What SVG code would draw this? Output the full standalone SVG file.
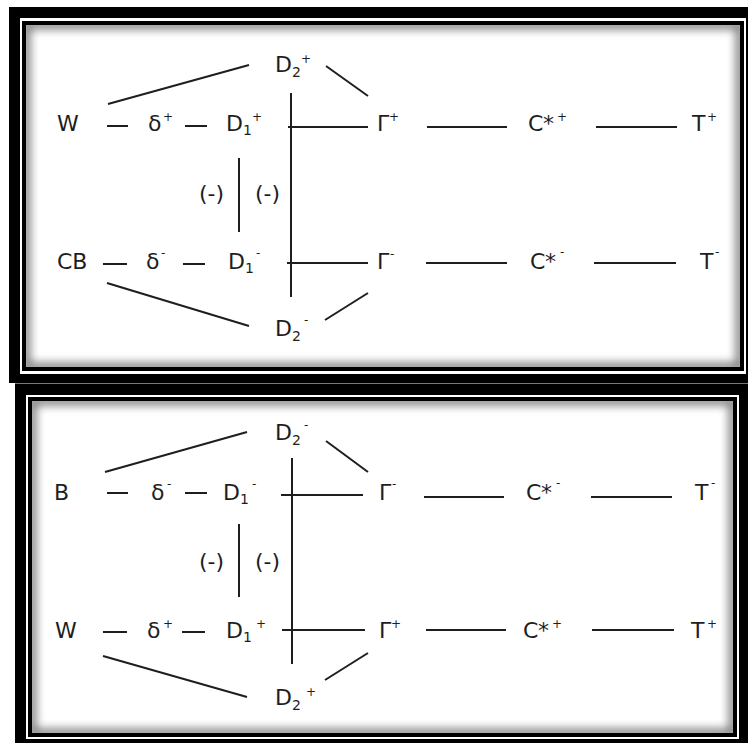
<svg xmlns="http://www.w3.org/2000/svg" width="748" height="743" viewBox="0 0 748 743">
<style>
.t{font-family:"DejaVu Sans",Verdana,sans-serif;font-size:22px;fill:#1e1e1e}
.sup{font-size:12px}
.sub{font-size:14px}
.c line{stroke:#1e1e1e;stroke-width:2;stroke-linecap:butt}
</style>
<defs>
<filter id="blur" x="-5%" y="-5%" width="110%" height="110%"><feGaussianBlur stdDeviation="5"/></filter>
<clipPath id="cp1"><rect x="26" y="25" width="714" height="342"/></clipPath>
<clipPath id="cp2"><rect x="32" y="401" width="701" height="332"/></clipPath>
</defs>
<rect width="748" height="743" fill="#fff"/>
<g id="frame1">
<rect x="9" y="7" width="745" height="376" fill="#000"/>
<rect x="20" y="18" width="726" height="356" fill="#fff"/>
<rect x="22" y="21" width="722" height="350" fill="#000"/>
<rect x="26" y="25" width="714" height="342" fill="#fff"/>
<g clip-path="url(#cp1)"><rect x="26" y="25" width="714" height="342" fill="none" stroke="#000" stroke-width="8" opacity="0.55" filter="url(#blur)"/></g>
</g>
<g id="frame2">
<rect x="15" y="383" width="740" height="362" fill="#000"/>
<line x1="15" y1="383.5" x2="748" y2="383.5" stroke="#777" stroke-width="1"/>
<rect x="26" y="395" width="713" height="344" fill="#fff"/>
<rect x="28" y="397" width="709" height="340" fill="#000"/>
<rect x="32" y="401" width="701" height="332" fill="#fff"/>
<g clip-path="url(#cp2)"><rect x="32" y="401" width="701" height="332" fill="none" stroke="#000" stroke-width="8" opacity="0.55" filter="url(#blur)"/></g>
</g>
<g id="connectors" class="c">
<line x1="107" y1="126" x2="128" y2="126"/>
<line x1="185" y1="126" x2="207" y2="126"/>
<line x1="103" y1="264" x2="127" y2="264"/>
<line x1="183" y1="264" x2="205" y2="264"/>
<line x1="291" y1="93" x2="291" y2="297"/>
<line x1="288" y1="127" x2="368" y2="127"/>
<line x1="287" y1="263" x2="368" y2="263"/>
<line x1="427" y1="127" x2="507" y2="127"/>
<line x1="596" y1="127" x2="677" y2="127"/>
<line x1="426" y1="263" x2="507" y2="263"/>
<line x1="594" y1="263" x2="676" y2="263"/>
<line x1="108" y1="104" x2="249" y2="65"/>
<line x1="326" y1="66" x2="368" y2="96"/>
<line x1="107" y1="283" x2="249" y2="326"/>
<line x1="325" y1="320" x2="368" y2="293"/>
<line x1="239" y1="158" x2="239" y2="232"/>
<line x1="107" y1="493" x2="128" y2="493"/>
<line x1="185" y1="493" x2="207" y2="493"/>
<line x1="103" y1="632" x2="127" y2="632"/>
<line x1="182" y1="632" x2="205" y2="632"/>
<line x1="292" y1="458" x2="292" y2="664"/>
<line x1="281" y1="495" x2="363" y2="495"/>
<line x1="282" y1="630" x2="365" y2="630"/>
<line x1="424" y1="497" x2="504" y2="497"/>
<line x1="591" y1="497" x2="672" y2="497"/>
<line x1="426" y1="630" x2="506" y2="630"/>
<line x1="592" y1="630" x2="674" y2="630"/>
<line x1="105" y1="472" x2="247" y2="432"/>
<line x1="326" y1="441" x2="368" y2="472"/>
<line x1="103" y1="656" x2="247" y2="697"/>
<line x1="325" y1="680" x2="368" y2="653"/>
<line x1="239" y1="524" x2="239" y2="597"/>
</g>
<!-- Panel 1 -->
<g id="p1-W"><text class="t" x="57" y="131">W</text></g>
<g id="p1-delta"><text class="t" x="148" y="131">δ<tspan class="sup" x="163" y="121">+</tspan></text></g>
<g id="p1-D1"><text class="t" x="226" y="131">D<tspan class="sub" x="243" y="135">1</tspan><tspan class="sup" x="252" y="121">+</tspan></text></g>
<g id="p1-D2top"><text class="t" x="275" y="72">D<tspan class="sub" x="292" y="77">2</tspan><tspan class="sup" x="301" y="63">+</tspan></text></g>
<g id="p1-G1"><text class="t" x="377" y="131">Γ<tspan class="sup" x="389" y="121">+</tspan></text></g>
<g id="p1-C1"><text class="t" x="528" y="131">C<tspan x="543">*</tspan><tspan class="sup" x="557" y="121">+</tspan></text></g>
<g id="p1-T1"><text class="t" x="692" y="131">T<tspan class="sup" x="707" y="121">+</tspan></text></g>
<g id="p1-neg"><text class="t" x="199" y="201">(-)</text><text class="t" x="255" y="201">(-)</text></g>
<g id="p1-CB"><text class="t" x="57" y="269">CB</text></g>
<g id="p1-delta2"><text class="t" x="146" y="269">δ<tspan class="sup" x="161" y="257">-</tspan></text></g>
<g id="p1-D1m"><text class="t" x="228" y="269">D<tspan class="sub" x="245" y="273">1</tspan><tspan class="sup" x="256" y="257">-</tspan></text></g>
<g id="p1-G2"><text class="t" x="377" y="269">Γ<tspan class="sup" x="390" y="258">-</tspan></text></g>
<g id="p1-C2"><text class="t" x="530" y="269">C<tspan x="545">*</tspan><tspan class="sup" x="560" y="256">-</tspan></text></g>
<g id="p1-T2"><text class="t" x="700" y="269">T<tspan class="sup" x="715" y="256">-</tspan></text></g>
<g id="p1-D2bot"><text class="t" x="275" y="336">D<tspan class="sub" x="292" y="341">2</tspan><tspan class="sup" x="304" y="324">-</tspan></text></g>
<!-- Panel 2 -->
<g id="p2-B"><text class="t" x="54" y="500">B</text></g>
<g id="p2-delta1"><text class="t" x="151" y="500">δ<tspan class="sup" x="167" y="488">-</tspan></text></g>
<g id="p2-D1m"><text class="t" x="223" y="500">D<tspan class="sub" x="240" y="504">1</tspan><tspan class="sup" x="252" y="488">-</tspan></text></g>
<g id="p2-D2top"><text class="t" x="275" y="440">D<tspan class="sub" x="292" y="445">2</tspan><tspan class="sup" x="304" y="429">-</tspan></text></g>
<g id="p2-G1"><text class="t" x="379" y="500">Γ<tspan class="sup" x="392" y="488">-</tspan></text></g>
<g id="p2-C1"><text class="t" x="526" y="500">C<tspan x="541">*</tspan><tspan class="sup" x="556" y="487">-</tspan></text></g>
<g id="p2-T1"><text class="t" x="695" y="500">T<tspan class="sup" x="711" y="487">-</tspan></text></g>
<g id="p2-neg"><text class="t" x="199" y="569">(-)</text><text class="t" x="255" y="569">(-)</text></g>
<g id="p2-W"><text class="t" x="55" y="638">W</text></g>
<g id="p2-delta2"><text class="t" x="147" y="638">δ<tspan class="sup" x="163" y="628">+</tspan></text></g>
<g id="p2-D1p"><text class="t" x="226" y="638">D<tspan class="sub" x="243" y="642">1</tspan><tspan class="sup" x="256" y="628">+</tspan></text></g>
<g id="p2-G2"><text class="t" x="379" y="638">Γ<tspan class="sup" x="391" y="628">+</tspan></text></g>
<g id="p2-C2"><text class="t" x="523" y="638">C<tspan x="538">*</tspan><tspan class="sup" x="552" y="628">+</tspan></text></g>
<g id="p2-T2"><text class="t" x="691" y="638">T<tspan class="sup" x="707" y="628">+</tspan></text></g>
<g id="p2-D2bot"><text class="t" x="275" y="705">D<tspan class="sub" x="292" y="710">2</tspan><tspan class="sup" x="306" y="696">+</tspan></text></g>
</svg>
